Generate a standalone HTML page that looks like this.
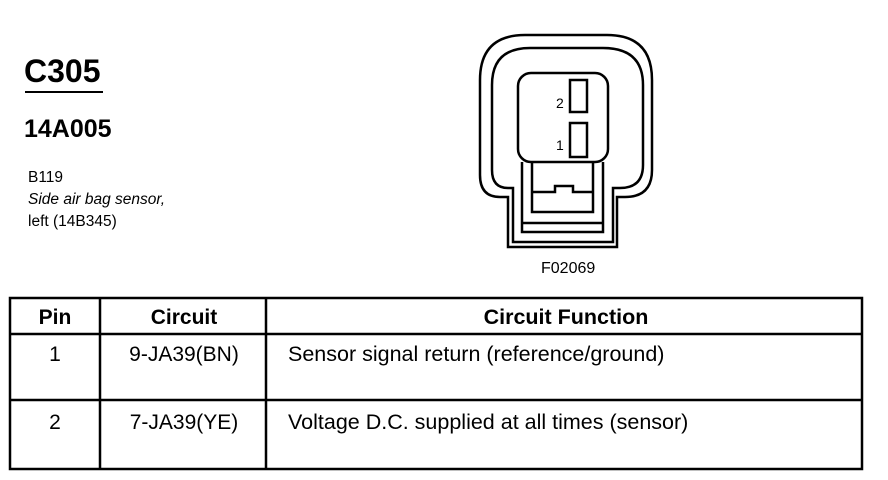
<!DOCTYPE html>
<html><head><meta charset="utf-8"><style>
html,body{margin:0;padding:0;background:#fff;}
body{width:888px;height:480px;position:relative;overflow:hidden;font-family:"Liberation Sans",Arial,sans-serif;color:#000;}
</style></head><body>
<svg width="888" height="480" viewBox="0 0 888 480" xmlns="http://www.w3.org/2000/svg" style="position:absolute;left:0;top:0" font-family="Liberation Sans, Arial, sans-serif">
<text x="24" y="82" font-size="32" font-weight="bold">C305</text>
<line x1="25" y1="92" x2="103" y2="92" stroke="#000" stroke-width="2"/>
<text x="24" y="137" font-size="25" font-weight="bold">14A005</text>
<text x="28" y="182" font-size="15.5">B119</text>
<text x="28" y="204" font-size="15.5" font-style="italic">Side air bag sensor,</text>
<text x="28" y="226" font-size="15.5">left (14B345)</text>

<g fill="none" stroke="#000" stroke-width="2.5">
<path d="M480,80 Q480,35 525,35 L607,35 Q652,35 652,80 L652,170 Q652,197 625,197 L617,197 L617,247 L508,247 L508,197 L500,197 Q480,197 480,175 Z"/>
<path d="M492,85 Q492,48 530,48 L603,48 Q643,48 643,85 L643,165 Q643,188 620,188 L613,188 L613,242 L513,242 L513,188 L508,188 Q492,188 492,170 Z"/>
<rect x="518" y="73" width="90" height="89" rx="13" fill="#fff"/>
<rect x="570" y="80" width="17" height="32"/>
<rect x="570" y="123" width="17" height="34"/>
<path d="M522,162 L522,232 L603,232 L603,162"/>
<path d="M532,162 L532,212 L593,212 L593,162"/>
<line x1="522" y1="223" x2="603" y2="223"/>
<path d="M532,192 L555,192 L555,186 L573,186 L573,192 L593,192"/>
</g>
<text x="556" y="108" font-size="14">2</text>
<text x="556" y="150" font-size="14">1</text>
<text x="541" y="273" font-size="16">F02069</text>

<g stroke="#000" stroke-width="2.5" fill="none">
<rect x="10" y="298" width="852" height="171"/>
<line x1="10" y1="334" x2="862" y2="334"/>
<line x1="10" y1="400" x2="862" y2="400"/>
<line x1="100" y1="298" x2="100" y2="469"/>
<line x1="266" y1="298" x2="266" y2="469"/>
</g>
<g font-size="21">
<text x="55" y="324" font-weight="bold" text-anchor="middle">Pin</text>
<text x="184" y="324" font-weight="bold" text-anchor="middle">Circuit</text>
<text x="566" y="324" font-weight="bold" text-anchor="middle" font-size="21.5">Circuit Function</text>
<text x="55" y="361" text-anchor="middle">1</text>
<text x="184" y="361" text-anchor="middle">9-JA39(BN)</text>
<text x="288" y="361" font-size="21.5">Sensor signal return (reference/ground)</text>
<text x="55" y="429" text-anchor="middle">2</text>
<text x="184" y="429" text-anchor="middle">7-JA39(YE)</text>
<text x="288" y="429" font-size="21.5">Voltage D.C. supplied at all times (sensor)</text>
</g>
</svg>
</body></html>
